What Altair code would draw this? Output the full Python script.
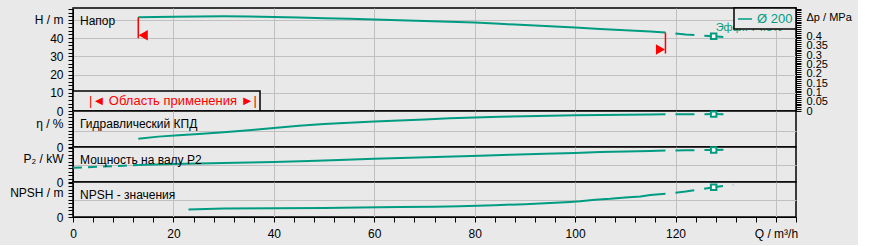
import altair as alt
import pandas as pd

TEAL = "#009c82"
RED = "#ff0000"
BG = "#e9e9e9"
GRID = "#c0c0c0"
FONT = "Liberation Sans"

SERIES = "Ø 200"
RANGE_LABEL = "|◄ Область применения ►|"
PANEL_LABELS = ["Напор", "Гидравлический КПД", "Мощность на валу P2", "NPSH - значения"]
RHO_G = 0.00979  # MPa per m of head

# ---- head H (m) ----
q_h = [13, 20, 25, 30, 35, 40, 45, 50, 55, 60, 65, 70, 75, 80, 85, 90, 95, 100, 105, 110, 115, 118]
h_vals = [51.4, 51.7, 51.9, 52.0, 51.9, 51.6, 51.3, 50.9, 50.6, 50.2, 49.8, 49.4, 49.0, 48.5,
          47.8, 47.2, 46.5, 45.8, 45.0, 44.3, 43.6, 43.1]
q_h_ext = [118, 122, 127.6, 131.5]
h_ext = [43.1, 42.0, 41.0, 40.1]

# ---- hydraulic efficiency (%) ----
q_eta = [13, 17, 21, 25, 30, 35, 40, 45, 50, 55, 60, 65, 70, 75, 80, 85, 90, 95, 100, 105, 110, 115, 118]
eta_vals = [19.0, 23.6, 26.8, 29.8, 33.7, 38.3, 43.0, 48.5, 52.5, 55.2, 57.8, 60.2, 62.8, 65.3,
            67.3, 68.9, 70.2, 71.3, 72.5, 73.0, 73.5, 74.0, 74.3]
q_eta_ext = [118, 122, 127.6, 131.5]
eta_ext = [74.3, 74.6, 74.8, 74.6]

# ---- shaft power P2 (kW) ----
q_p2_pre = [0, 5, 10, 13]
p2_pre = [8.3, 8.9, 9.5, 10.0]
q_p2 = [13, 20, 30, 40, 47, 53, 60, 67, 74, 81, 87, 94, 100, 105, 110, 115, 118]
p2_vals = [10.0, 10.6, 11.1, 11.7, 12.3, 12.9, 13.6, 14.2, 14.8, 15.4, 15.9, 16.5, 17.0, 17.5, 17.9, 18.2, 18.4]
q_p2_ext = [118, 122, 127.6, 131.5]
p2_ext = [18.4, 18.6, 18.8, 18.9]

# ---- NPSH (m) ----
q_npsh = [23, 30, 40, 50, 57, 65, 72, 77, 84, 90, 95, 99, 101, 104, 107, 110, 113, 115, 118]
npsh_vals = [2.2, 2.45, 2.55, 2.65, 2.8, 2.9, 3.0, 3.15, 3.45, 3.75, 4.1, 4.4, 4.6, 5.0, 5.3, 5.7, 6.0, 6.4, 6.8]
q_npsh_ext = [118, 122, 127.6, 131.5]
npsh_ext = [6.8, 7.4, 8.66, 9.4]

# ---- duty point ----
q_duty = 127.6
h_duty = 41.0
eta_duty = 74.8
p2_duty = 18.8
npsh_duty = 8.66

PLOT_W = 723
Q_DOMAIN = [0, 144]

x_scale = alt.Scale(domain=Q_DOMAIN, nice=False, zero=False)
x_grid_axis = alt.Axis(values=list(range(0, 141, 20)), grid=True, labels=False, ticks=False,
                       domain=False, title=None)
x_bottom_axis = alt.Axis(
    values=list(range(0, 145, 4)), grid=True,
    gridOpacity={"condition": {"test": "datum.value % 20 == 0", "value": 1}, "value": 0},
    labelExpr="datum.value == 140 ? 'Q / m³/h' : (datum.value % 20 == 0 ? '' + datum.value : '')",
    tickSize=5, labelPadding=6, title=None, labelFlush=False, labelOverlap=False)


def y_axis(values, labels, grids, orient="left"):
    expr = " : ".join(f"datum.value == {k} ? '{v}'" for k, v in labels.items()) + " : ''"
    test = "indexof([" + ",".join(str(g) for g in grids) + "], datum.value) >= 0"
    return alt.Axis(values=values, labelExpr=expr, grid=bool(grids),
                    gridOpacity={"condition": {"test": test, "value": 1}, "value": 0},
                    tickSize=5, labelPadding=5, title=None, labelOverlap=False,
                    labelFlush=False, orient=orient)


def frame(q, v, name):
    return pd.DataFrame({"Q": q, name: v, "series": SERIES})


def label_layer(text):
    return alt.Chart(pd.DataFrame({"t": [text]})).mark_text(
        align="left", baseline="middle", fontSize=12, color="black", font=FONT
    ).encode(x=alt.value(7), y=alt.value(13), text="t:N")


def curve_layers(x_enc, y_enc, df_main, df_ext, df_duty, color_enc=None, df_pre=None):
    enc = dict(x=x_enc, y=y_enc)
    if color_enc is not None:
        enc["color"] = color_enc
    layers = [alt.Chart(df_main).mark_line(strokeWidth=2, color=TEAL).encode(**enc),
              alt.Chart(df_ext).mark_line(strokeWidth=2, color=TEAL, strokeDash=[19, 10],
                                          strokeDashOffset=19).encode(**enc)]
    if df_pre is not None:
        layers.append(alt.Chart(df_pre).mark_line(strokeWidth=2, color=TEAL,
                                                  strokeDash=[9, 6]).encode(**enc))
    layers.append(alt.Chart(df_duty).mark_point(shape="square", filled=True, fill="white",
                                                stroke=TEAL, strokeWidth=2, size=30,
                                                opacity=1).encode(x=x_enc, y=y_enc))
    return layers


x_top = alt.X("Q:Q", scale=x_scale, axis=x_grid_axis)
x_bot = alt.X("Q:Q", scale=x_scale, axis=x_bottom_axis)

# ---------------- H panel ----------------
H_DOMAIN = [0, 56.5]
axis_h = y_axis(list(range(0, 57, 2)),
                {0: "0", 10: "10", 20: "20", 30: "30", 40: "40", 50: "H / m"},
                [10, 20, 30, 40, 50])
y_h = alt.Y("H:Q", scale=alt.Scale(domain=H_DOMAIN, nice=False, zero=False), axis=axis_h)
color_h = alt.Color("series:N", scale=alt.Scale(domain=[SERIES], range=[TEAL]),
                    legend=alt.Legend(title=None, orient="top-right", offset=0, padding=3,
                                      fillColor=BG, strokeColor="black", symbolType="stroke",
                                      symbolSize=200, symbolStrokeWidth=1.5, labelColor=TEAL,
                                      labelFontSize=13, labelFont=FONT, labelOffset=4))

df_h = frame(q_h, h_vals, "H")
df_h_ext = frame(q_h_ext, h_ext, "H")
df_h_duty = pd.DataFrame({"Q": [q_duty], "H": [h_duty], "t": [f"Эфф.: {eta_duty}%"]})
df_range = pd.DataFrame({"Q": [q_h[0], q_h[-1]], "H": [h_vals[0], h_vals[-1]],
                         "lbl": [RANGE_LABEL, RANGE_LABEL]})

range_rule = alt.Chart(df_range).mark_rule(color=RED, strokeWidth=1.5, y2Offset=21).encode(
    x=x_top, y=y_h, y2=alt.Y2("H"),
    strokeDash=alt.StrokeDash("lbl:N", scale=alt.Scale(range=[[1, 0]]),
                              legend=alt.Legend(title=None, orient="bottom-left", offset=0,
                                                padding=3, fillColor=BG, strokeColor="black",
                                                symbolOpacity=0, symbolSize=0,
                                                symbolStrokeWidth=0, labelColor=RED,
                                                labelFontSize=13, labelFont=FONT,
                                                labelOffset=0, labelLimit=0)))
tri_left = alt.Chart(df_range.iloc[[0]]).mark_point(
    shape="triangle-left", filled=True, color=RED, size=110, opacity=1, xOffset=5, yOffset=18
).encode(x=x_top, y=y_h)
tri_right = alt.Chart(df_range.iloc[[1]]).mark_point(
    shape="triangle-right", filled=True, color=RED, size=110, opacity=1, xOffset=-5, yOffset=17
).encode(x=x_top, y=y_h)
eff_text = alt.Chart(df_h_duty).mark_text(
    align="left", baseline="middle", dx=2, dy=-8, color=TEAL, fontSize=11, font=FONT
).encode(x=x_top, y=y_h, text="t:N")

h_inner = alt.layer(
    *curve_layers(x_top, y_h, df_h, df_h_ext, df_h_duty, color_enc=color_h),
    range_rule, tri_left, tri_right, eff_text, label_layer(PANEL_LABELS[0])
)

dp_vals = [round(i * 0.01, 2) for i in range(0, 56)]
axis_dp = alt.Axis(values=dp_vals, orient="right", title=None, tickSize=5, labelPadding=5,
                   labelOverlap=False, labelFlush=False, grid=False, labelFontSize=11,
                   labelExpr="datum.value == 0.5 ? 'Δp / MPa' : ((round(datum.value*100) % 5 == 0 && datum.value <= 0.4) ? format(datum.value, '~g') : '')")
dp_layer = alt.Chart(df_h).transform_calculate(dp=f"datum.H * {RHO_G}").mark_line(opacity=0).encode(
    x=x_top,
    y=alt.Y("dp:Q", scale=alt.Scale(domain=[0, H_DOMAIN[1] * RHO_G], nice=False, zero=False),
            axis=axis_dp))

h_panel = alt.layer(h_inner, dp_layer).resolve_scale(y="independent").properties(
    width=PLOT_W, height=103)

# ---------------- efficiency panel ----------------
axis_eta = y_axis([i * 7.5 for i in range(0, 11)], {0: "0", 52.5: "η / %"}, [37.5])
y_eta = alt.Y("eta:Q", scale=alt.Scale(domain=[0, 81.9], nice=False, zero=False), axis=axis_eta)
eta_panel = alt.layer(
    *curve_layers(x_top, y_eta, frame(q_eta, eta_vals, "eta"), frame(q_eta_ext, eta_ext, "eta"),
                  pd.DataFrame({"Q": [q_duty], "eta": [eta_duty]})),
    label_layer(PANEL_LABELS[1])
).properties(width=PLOT_W, height=36)

# ---------------- power panel ----------------
axis_p2 = y_axis(list(range(0, 21, 2)), {0: "0", 14: "P₂ / kW"}, [10])
y_p2 = alt.Y("P2:Q", scale=alt.Scale(domain=[0, 20.5], nice=False, zero=False), axis=axis_p2)
p2_panel = alt.layer(
    *curve_layers(x_top, y_p2, frame(q_p2, p2_vals, "P2"), frame(q_p2_ext, p2_ext, "P2"),
                  pd.DataFrame({"Q": [q_duty], "P2": [p2_duty]}),
                  df_pre=frame(q_p2_pre, p2_pre, "P2")),
    label_layer(PANEL_LABELS[2])
).properties(width=PLOT_W, height=35)

# ---------------- NPSH panel ----------------
axis_npsh = y_axis(list(range(0, 11)), {0: "0", 7: "NPSH / m"}, [5])
y_npsh = alt.Y("NPSH:Q", scale=alt.Scale(domain=[0, 10.2], nice=False, zero=False), axis=axis_npsh)
npsh_panel = alt.layer(
    *curve_layers(x_bot, y_npsh, frame(q_npsh, npsh_vals, "NPSH"),
                  frame(q_npsh_ext, npsh_ext, "NPSH"),
                  pd.DataFrame({"Q": [q_duty], "NPSH": [npsh_duty]})),
    label_layer(PANEL_LABELS[3])
).properties(width=PLOT_W, height=35)

chart = alt.vconcat(h_panel, eta_panel, p2_panel, npsh_panel, spacing=0, bounds="flush").resolve_legend(
    color="independent", strokeDash="independent"
).properties(
    padding={"left": 8, "top": 1, "right": 5, "bottom": 5}, background=BG
).configure(font=FONT).configure_view(
    stroke="black", strokeWidth=1.5, fill=BG
).configure_axis(
    labelFont=FONT, labelFontSize=12, labelColor="black", tickColor="black",
    domainColor="black", gridColor=GRID, gridWidth=1
).configure_legend(strokeWidth=1.5)

chart.save("out.html", embed_options={"renderer": "svg", "actions": False})
